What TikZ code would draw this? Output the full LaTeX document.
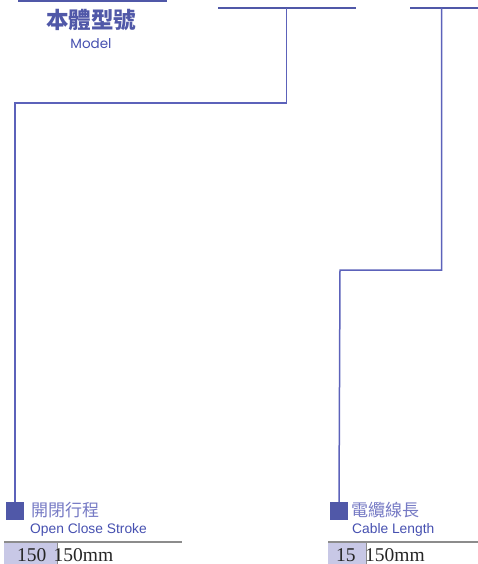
\documentclass[tikz,border=0pt]{standalone}
\usepackage{fontspec}
\setmainfont{Liberation Serif}
\newfontfamily\cjk{Noto Sans CJK TC}
\newfontfamily\arialf{Liberation Sans}
\newfontfamily\geof{Poppins}
\definecolor{barblue}{RGB}{80,88,168}
\definecolor{lineblue}{RGB}{92,98,186}
\definecolor{cjkblue}{RGB}{118,122,196}
\definecolor{engblue}{RGB}{70,80,176}
\definecolor{lav}{RGB}{200,200,230}
\definecolor{rulegray}{RGB}{140,140,140}
\tikzset{
  topbar/.style={draw=barblue, line width=2pt},
  conn/.style={draw=lineblue, line width=1.5pt},
  marker/.style={fill=barblue, draw=none, minimum width=18pt, minimum height=18pt, inner sep=0pt},
  cjklabel/.style={inner sep=0pt, anchor=base west, text=cjkblue, font=\cjk\fontsize{17}{19}\selectfont},
  englabel/.style={inner sep=0pt, anchor=base west, text=engblue, font=\arialf\fontsize{13.8}{16}\selectfont},
  valbox/.style={fill=lav, draw=none, inner sep=0pt, anchor=north west},
  valtext/.style={inner sep=0pt, anchor=base west, text=black!85, font=\fontsize{19.5}{22}\selectfont},
}
\begin{document}
\begin{tikzpicture}[x=1pt,y=-1pt]
\useasboundingbox (0,0) rectangle (478,564);
% title bar and title
\fill[barblue] (18,-1) rectangle (167,2.5);
\node[inner sep=0pt, text=barblue, font=\cjk\bfseries\fontsize{22.5}{24}\selectfont] (title) at (91,20) {本體型號};
\node[inner sep=0pt, text=engblue, font=\geof\fontsize{13.5}{15}\selectfont] (model) at (91,43.5) {Model};
% top rules
\draw[topbar] (218,7.7) -- (356,7.7);
\draw[topbar] (410,7.7) -- (478,7.7);
\coordinate (t1) at (286.5,7.7);
\coordinate (t2) at (441.5,7.7);
\coordinate (b1) at (15,103);
\coordinate (b2) at (340,270);
% markers
\node[marker] (sq1) at (15,511) {};
\node[marker] (sq2) at (339,511) {};
% connectors
\draw[conn] (t1) -- (t1 |- b1) -- (b1) -- (sq1.north);
\draw[conn] (t2) -- (t2 |- b2) -- (b2) -- (sq2.north);
% labels
\node[cjklabel] (l1) at (31,516) {開閉行程};
\node[englabel] (e1) at (30,533) {Open Close Stroke};
\node[cjklabel] (l2) at (351,516) {電纜線長};
\node[englabel] (e2) at (352,533) {Cable Length};
% value rows
\node[valbox, minimum width=53pt, minimum height=22pt] (v1) at (4,542.5) {};
\node[valbox, minimum width=38pt, minimum height=22pt] (v2) at (328,542.5) {};
\draw[rulegray, line width=2pt] (4,541.5) -- (182,541.5);
\draw[rulegray, line width=2pt] (328,541.5) -- (478,541.5);
\draw[rulegray, line width=0.8pt] (v1.north east) -- (v1.south east);
\draw[rulegray, line width=0.8pt] (v2.north east) -- (v2.south east);
\node[valtext] (n1) at (17,561) {150};
\node[valtext] (m1) at (53.5,561) {150mm};
\node[valtext] (n2) at (336,561) {15};
\node[valtext] (m2) at (365,561) {150mm};
\end{tikzpicture}
\end{document}
